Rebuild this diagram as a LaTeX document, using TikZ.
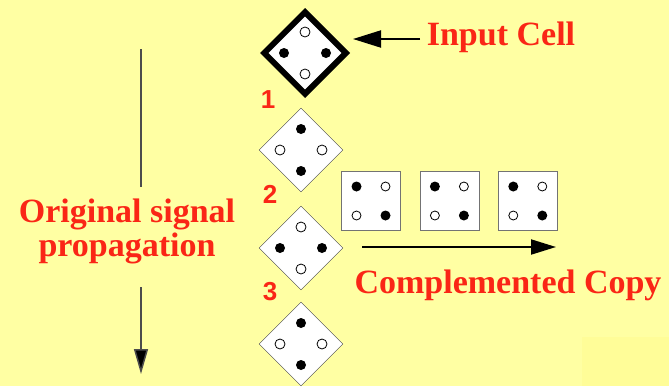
\documentclass[tikz,border=0pt]{standalone}
\usepackage{fontspec}
\setmainfont{Liberation Serif}
\newfontfamily\numfont{Liberation Sans}
\usetikzlibrary{shapes.geometric, arrows.meta, positioning}

\definecolor{bgyellow}{RGB}{255,255,163}
\definecolor{patchyellow}{RGB}{255,253,152}
\definecolor{labelred}{RGB}{250,38,22}

\tikzset{
    cell/.style = {diamond, draw = black!75, fill = white, inner sep = 0pt,
                   minimum width = 84pt, minimum height = 84pt, aspect = 1},
    copycell/.style = {rectangle, draw = black!55, fill = white, inner sep = 0pt,
                       minimum size = 59pt},
    black dot/.style = {fill = black},
    white dot/.style = {draw = black, fill = white, line width = 0.8pt},
    redlabel/.style = {text = labelred, font = \bfseries\fontsize{34}{34}\selectfont,
                       inner sep = 1pt},
    numlabel/.style = {text = labelred, font = \numfont\bfseries\fontsize{26}{26}\selectfont,
                       inner sep = 0pt},
    bigtip/.style = {-{Triangle[length = 25pt, width = 15pt]}},
}

\begin{document}
\begin{tikzpicture}[x = 1pt, y = -1pt]
    \fill[bgyellow] (0, 0) rectangle (669, 386);
    \useasboundingbox (0, 0) rectangle (669, 386);
    \fill[patchyellow] (582, 337) rectangle (669, 386);

    % cells down the wire
    \node[cell, draw = black, line width = 6pt] (input) at (305, 53){};
    \node[cell] (c1) at (301, 150){};
    \node[cell] (c2) at (301, 248){};
    \node[cell] (c3) at (301, 344){};

    \foreach \c/\vert/\horz in {input/white/black, c1/black/white, c2/white/black, c3/black/white} {
        \path[\vert\space dot] ([yshift = 21pt]\c.center) circle (5);
        \path[\vert\space dot] ([yshift = -21pt]\c.center) circle (5);
        \path[\horz\space dot] ([xshift = -21pt]\c.center) circle (5);
        \path[\horz\space dot] ([xshift = 21pt]\c.center) circle (5);
    }

    \node[numlabel] (n1) at (268, 100){1};
    \node[numlabel] (n2) at (270, 194){2};
    \node[numlabel] (n3) at (270, 292){3};

    % complemented copies
    \node[copycell] (sq1) at (371, 201){};
    \node[copycell, right = 19pt of sq1] (sq2){};
    \node[copycell, right = 19pt of sq2] (sq3){};

    \foreach \s in {sq1, sq2, sq3} {
        \path[black dot] ([shift = {(-14.5pt, 14.5pt)}]\s.center) circle (5);
        \path[white dot] ([shift = {(14.5pt, 14.5pt)}]\s.center) circle (4.5);
        \path[white dot] ([shift = {(-14.5pt, -14.5pt)}]\s.center) circle (4.5);
        \path[black dot] ([shift = {(14.5pt, -14.5pt)}]\s.center) circle (5);
    }

    % labels and arrows
    \node[redlabel] (inlabel) at (501, 37){Input Cell};
    \coordinate (intip) at (353, 39);
    \coordinate (instart) at (420, 39);
    \draw[-{Triangle[length = 28pt, width = 17pt]}, line width = 2pt] (instart) -- (intip);

    \coordinate (cstart) at (362, 247);
    \coordinate (cend) at (556, 247);
    \draw[bigtip, line width = 2pt] (cstart) -- (cend);
    \node[redlabel] (cclabel) at (508, 285){Complemented Copy};

    \node[redlabel, align = center] (oslabel) at (127, 231){Original signal\\propagation};
    \coordinate (vtop) at (141, 49);
    \coordinate (vgap1) at (141, 187);
    \coordinate (vgap2) at (141, 287);
    \coordinate (vbot) at (141, 374);
    \draw[black!70, line width = 1.5pt] (vtop) -- (vgap1);
    \draw[black!70, line width = 1.5pt, -{Triangle[length = 25pt, width = 14pt, fill = black]}] (vgap2) -- (vbot);
\end{tikzpicture}
\end{document}
